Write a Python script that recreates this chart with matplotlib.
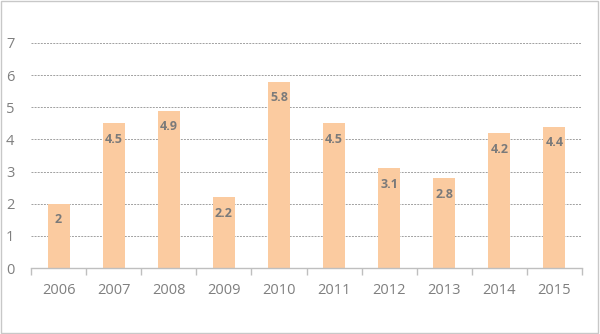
import matplotlib.pyplot as plt
from matplotlib.patches import Rectangle
import numpy as np

years = ["2006", "2007", "2008", "2009", "2010", "2011", "2012", "2013", "2014", "2015"]
values = [2, 4.5, 4.9, 2.2, 5.8, 4.5, 3.1, 2.8, 4.2, 4.4]
value_labels = ["2", "4.5", "4.9", "2.2", "5.8", "4.5", "3.1", "2.8", "4.2", "4.4"]
y_ticks = [0, 1, 2, 3, 4, 5, 6, 7]

plt.rcParams['font.family'] = ['Open Sans', 'DejaVu Sans']

fig = plt.figure(figsize=(6.0, 3.34), dpi=100)
fig.patches.append(Rectangle((0.002, 0.003), 0.994, 0.994, transform=fig.transFigure,
                             fill=False, edgecolor='#c8c8c8', linewidth=1.0))
ax = fig.add_axes([31 / 600, 1 - 268 / 334, 551 / 600, 225 / 334])

x = np.arange(len(years))
ax.bar(x, values, width=0.4, color='#fbcba0', zorder=2)

for xi, v, lab in zip(x, values, value_labels):
    ax.text(xi, v - 0.5, lab, ha='center', va='center', fontsize=9,
            fontweight='bold', color='#7a7a7a', zorder=3)

ax.set_xlim(-0.5, len(years) - 0.5)
ax.set_ylim(0, 7)
ax.set_yticks(y_ticks)
ax.set_yticklabels([str(t) for t in y_ticks])
ax.set_xticks(x)
ax.set_xticklabels(years)
ax.set_xticks(np.arange(-0.5, len(years)), minor=True)

ax.yaxis.grid(True, linestyle=(0, (2, 1.2)), color='#a0a0a0', linewidth=0.7, zorder=0)
ax.set_axisbelow(True)

for side in ['left', 'right', 'top']:
    ax.spines[side].set_visible(False)
ax.spines['bottom'].set_color('#bfbfbf')
ax.spines['bottom'].set_linewidth(1.0)

ax.tick_params(axis='x', which='major', length=0, pad=11, labelsize=10.5, labelcolor='#7f7f7f')
ax.tick_params(axis='x', which='minor', length=5, color='#bfbfbf', width=1.0)
ax.tick_params(axis='y', length=0, pad=12, labelsize=10.5, labelcolor='#7f7f7f')

fig.savefig('out.png', dpi=100)
